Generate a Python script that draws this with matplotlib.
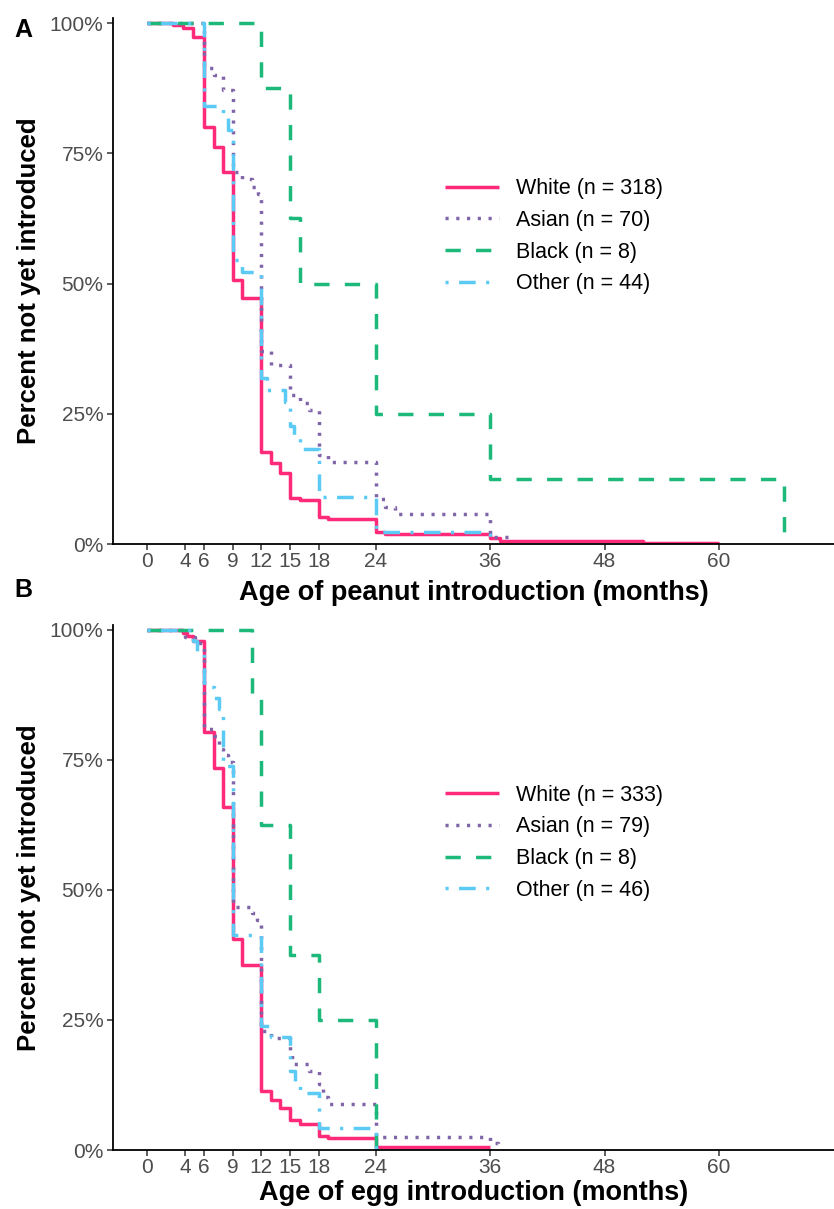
import matplotlib
matplotlib.use("Agg")
import matplotlib.pyplot as plt
from matplotlib import font_manager
from matplotlib.ticker import FuncFormatter

# ---------------- data ----------------
groups = ["White", "Asian", "Black", "Other"]
peanut_n = [318, 70, 8, 44]
egg_n = [333, 79, 8, 46]
x_ticks = [0, 4, 6, 9, 12, 15, 18, 24, 36, 48, 60]
y_ticks = [0, 0.25, 0.5, 0.75, 1.0]

# Panel A: peanut
peanut_white_t = [0, 2.7, 3.8, 4.8, 6, 7, 8, 9, 10, 12, 13, 14, 15, 16, 18, 19, 24, 25, 36, 37, 52, 60]
peanut_white_s = [1.0, 0.996, 0.99, 0.974, 0.80, 0.762, 0.714, 0.507, 0.472, 0.177, 0.155, 0.136, 0.088, 0.084,
                  0.052, 0.048, 0.023, 0.019, 0.011, 0.005, 0.002, 0.002]
peanut_asian_t = [0, 6, 7, 8, 9, 10, 11, 11.6, 12, 13, 15, 16, 17, 18, 19, 24, 25, 26, 36, 37.9]
peanut_asian_s = [1.0, 0.914, 0.900, 0.871, 0.714, 0.700, 0.686, 0.671, 0.371, 0.343, 0.286, 0.271, 0.257, 0.171,
                  0.157, 0.086, 0.071, 0.057, 0.014, 0.0]
peanut_black_t = [0, 12, 15, 16, 24, 36, 66.8]
peanut_black_s = [1.0, 0.875, 0.625, 0.5, 0.25, 0.125, 0.0]
peanut_other_t = [0, 6, 8, 8.5, 9, 10, 12, 12.6, 14.5, 15, 15.4, 16, 18, 24, 36]
peanut_other_s = [1.0, 0.841, 0.818, 0.795, 0.545, 0.523, 0.318, 0.295, 0.273, 0.227, 0.205, 0.182, 0.091, 0.023, 0.0]

# Panel B: egg
egg_white_t = [0, 3.8, 4.2, 4.8, 6, 7, 8, 9, 10, 12, 13, 14, 15, 16, 18, 19, 24, 36]
egg_white_s = [1.0, 0.995, 0.988, 0.979, 0.803, 0.734, 0.659, 0.405, 0.356, 0.114, 0.096, 0.081, 0.058, 0.050,
               0.027, 0.023, 0.006, 0.006]
egg_asian_t = [0, 4, 5, 6, 7, 7.5, 8, 8.5, 9, 11, 11.5, 12, 13, 15, 15.2, 17, 18, 18.5, 19, 24, 36, 36.8]
egg_asian_s = [1.0, 0.987, 0.975, 0.810, 0.797, 0.772, 0.759, 0.747, 0.468, 0.456, 0.443, 0.228, 0.215, 0.190,
               0.165, 0.152, 0.127, 0.101, 0.089, 0.025, 0.013, 0.0]
egg_black_t = [0, 11, 12, 15, 18, 24]
egg_black_s = [1.0, 0.875, 0.625, 0.375, 0.25, 0.0]
egg_other_t = [0, 4.8, 5.2, 6, 7, 7.5, 8, 9, 12, 13, 15, 15.5, 16, 18, 24]
egg_other_s = [1.0, 0.978, 0.957, 0.891, 0.870, 0.848, 0.739, 0.413, 0.239, 0.217, 0.152, 0.130, 0.109, 0.043, 0.0]

# ---------------- style ----------------
colors = {"White": "#FF2A7A", "Asian": "#8064A8", "Black": "#1DB97A", "Other": "#5BCBF5"}
dashes = {"White": None, "Asian": (0.9, 2.2), "Black": (4.4, 4.4), "Other": (0.9, 3.0, 4.8, 3.0)}
LW = 2.5

def has_font(name):
    try:
        font_manager.findfont(font_manager.FontProperties(family=name), fallback_to_default=False)
        return True
    except Exception:
        return False

base_font = "Liberation Sans" if has_font("Liberation Sans") else "DejaVu Sans"
plt.rcParams["font.family"] = [base_font, "DejaVu Sans"]

W, H = 834, 1209
fig = plt.figure(figsize=(W / 100, H / 100), dpi=100)

left_px, right_px = 113, 834
panels = [
    dict(top=18, bottom=544, data=[(peanut_white_t, peanut_white_s), (peanut_asian_t, peanut_asian_s),
                                  (peanut_black_t, peanut_black_s), (peanut_other_t, peanut_other_s)],
         n=peanut_n, xlabel="Age of peanut introduction (months)", tag="A", tag_y=30, xpad=6),
    dict(top=625, bottom=1150, data=[(egg_white_t, egg_white_s), (egg_asian_t, egg_asian_s),
                                    (egg_black_t, egg_black_s), (egg_other_t, egg_other_s)],
         n=egg_n, xlabel="Age of egg introduction (months)", tag="B", tag_y=590, xpad=2),
]

zorders = {"White": 3, "Asian": 4, "Black": 5, "Other": 6}
for p in panels:
    ax = fig.add_axes([left_px / W, 1 - p["bottom"] / H, (right_px - left_px) / W, (p["bottom"] - p["top"]) / H])
    handles = []
    for g, (t, s), n in zip(groups, p["data"], p["n"]):
        ln, = ax.step(t, s, where="post", color=colors[g], lw=LW, zorder=zorders[g],
                      label=f"{g} (n = {n})", solid_capstyle="butt", dash_capstyle="butt")
        if dashes[g] is not None:
            ln.set_dashes(dashes[g])
        handles.append(ln)
    ax.set_xlim(-3.57, 72.07)
    ax.set_ylim(0, 1.0096)
    ax.set_xticks(x_ticks)
    ax.set_yticks(y_ticks)
    ax.yaxis.set_major_formatter(FuncFormatter(lambda v, pos: f"{int(round(v * 100))}%"))
    for sp in ["top", "right"]:
        ax.spines[sp].set_visible(False)
    for sp in ["left", "bottom"]:
        ax.spines[sp].set_linewidth(1.3)
        ax.spines[sp].set_color("black")
        ax.spines[sp].set_zorder(10)
    ax.tick_params(axis="both", length=4, width=1.1, color="#333333", labelcolor="#4D4D4D")
    ax.tick_params(axis="y", labelsize=15, pad=3)
    ax.tick_params(axis="x", labelsize=15, pad=2)
    ax.set_xlabel(p["xlabel"], fontsize=19.5, fontweight="bold", labelpad=p["xpad"])
    ax.set_ylabel("Percent not yet introduced", fontsize=18.5, fontweight="bold", labelpad=6)
    ax.legend(handles=handles, loc="center left", bbox_to_anchor=(0.4605, 0.585), frameon=False,
              fontsize=15.5, handlelength=2.5, handletextpad=0.78, labelspacing=0.5,
              borderpad=0, borderaxespad=0)
    fig.text(14 / W, 1 - p["tag_y"] / H, p["tag"], fontsize=18, fontweight="bold", va="center", ha="left")

fig.savefig("out.png", dpi=100)
